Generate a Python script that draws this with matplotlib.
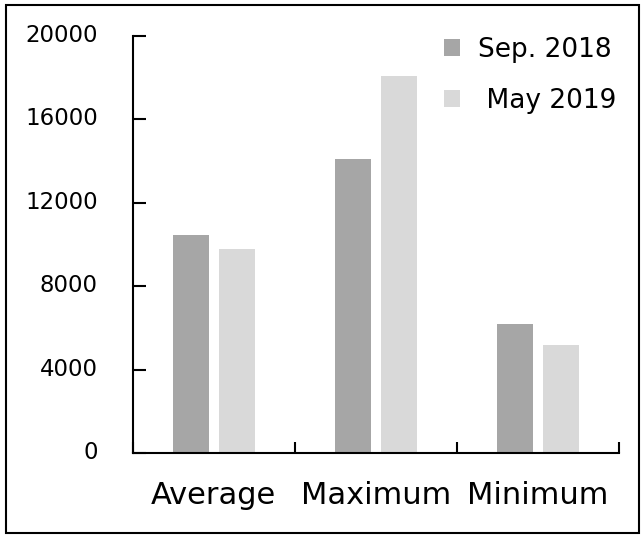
import matplotlib
matplotlib.use("Agg")
import matplotlib.pyplot as plt
from matplotlib.patches import Rectangle
import matplotlib.transforms as mtransforms
import numpy as np

categories = ["Average", "Maximum", "Minimum"]
series_names = ["Sep. 2018", " May 2019"]
sep_2018 = [10450, 14100, 6200]
may_2019 = [9800, 18100, 5200]
yticks = [0, 4000, 8000, 12000, 16000, 20000]

colors = ["#A6A6A6", "#D9D9D9"]

plt.rcParams['font.family'] = ['DejaVu Sans']

fig = plt.figure(figsize=(6.43, 5.35), dpi=100)
ax = fig.add_axes([132.5/643, 1-453/535, (619-132.5)/643, (453-36)/535])

x = np.arange(len(categories)) + 0.5
off = 0.142
w = 0.222
ax.bar(x - off, sep_2018, width=w, color=colors[0], label=series_names[0])
ax.bar(x + off, may_2019, width=w, color=colors[1], label=series_names[1])

ax.set_xlim(0, 3)
ax.set_ylim(0, 20000)
ax.set_yticks(yticks)
ax.set_yticklabels([str(t) for t in yticks], fontsize=16.5)
ax.set_xticks([0, 1, 2, 3])
ax.set_xticklabels([])
ax.set_xticks(x, minor=True)
ax.set_xticklabels(categories, minor=True, fontsize=22)
ax.tick_params(axis='x', which='minor', length=0, pad=20)
ax.tick_params(axis='x', which='major', direction='in', length=8, width=1.5)
ax.tick_params(axis='y', direction='in', length=9, width=1.5, pad=25)
shift = mtransforms.ScaledTranslation(0, 3/100, fig.dpi_scale_trans)
for t in ax.get_yticklabels():
    t.set_horizontalalignment('right')
    t.set_transform(t.get_transform() + shift)
ax.spines['top'].set_visible(False)
ax.spines['right'].set_visible(False)
ax.spines['left'].set_linewidth(1.5)
ax.spines['bottom'].set_linewidth(1.5)

leg = ax.legend(loc='upper left', bbox_to_anchor=((444-132.5)/486.5, (453-37)/417),
                frameon=False, borderpad=0, borderaxespad=0,
                fontsize=19, handlelength=0.6, handleheight=0.6, handletextpad=0.7,
                labelspacing=0.93)

fig.add_artist(Rectangle((5.5/643, 1-533/535), (639-5.5)/643, (533-4.5)/535,
                         transform=fig.transFigure, fill=False, edgecolor='black',
                         linewidth=1.5))

fig.savefig("out.png", dpi=100)
